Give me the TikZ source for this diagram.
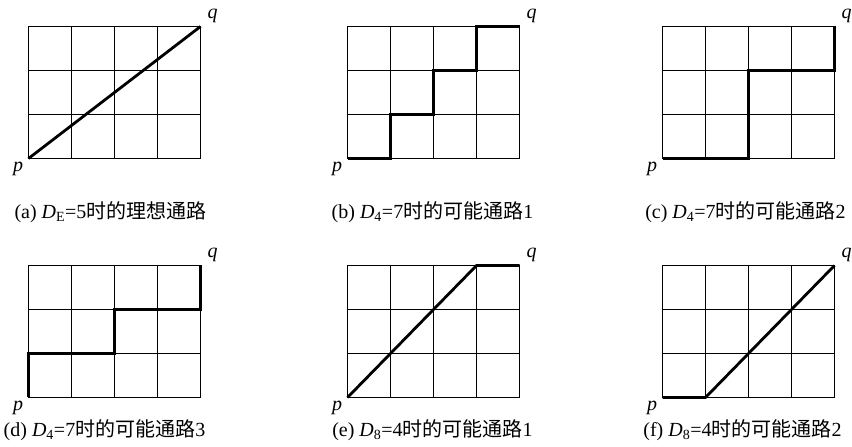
\documentclass[tikz,border=0pt]{standalone}
\usepackage{fontspec}
\setmainfont{Liberation Serif}
\newfontfamily\cjk{Noto Sans CJK SC}
\usepackage{tikz}
\usetikzlibrary{positioning, calc}
\definecolor{tracado}{RGB}{0,0,0}
% malha 4x3 em unidades de celula
\newcommand{\malha}{%
    \foreach \i in {0,1,2,3,4} {
        \draw[grade] (\i,0) -- (\i,3);
    }
    \foreach \j in {0,1,2,3} {
        \draw[grade] (0,\j) -- (4,\j);
    }
}

\begin{document}
\begin{tikzpicture}[x=1pt, y=1pt,
    grade/.style={line width=1.1pt, line cap=rect},
    rota/.style={line width=2.8pt, color=tracado},
    celula/.style={x=43pt, y=44pt},
    ponto/.style={font=\fontsize{20}{22}\selectfont\itshape, inner sep=0pt},
    legenda/.style={font=\fontsize{20}{22}\selectfont, inner sep=0pt}]
    \useasboundingbox (0,0) rectangle (852,447);
    % (a) linha reta de p a q
    \begin{scope}[shift={(28.5pt,288.5pt)}, celula]
        \malha
        \coordinate (pA) at (0,0);
        \coordinate (qA) at (4,3);
        \draw[rota] (pA) -- (qA);
        \node[ponto] (pa) at ([shift={(-10.5pt,-10pt)}]pA) {p};
        \node[ponto] (qa) at ([shift={(12pt,11pt)}]qA) {q};
    \end{scope}
    % (b) escada 1-1-1
    \begin{scope}[shift={(347.5pt,288.5pt)}, celula]
        \malha
        \coordinate (pB) at (0,0);
        \coordinate (qB) at (4,3);
        \draw[rota] (pB) -- (1,0) -- (1,1) -- (2,1) -- (2,2) -- (3,2) -- (3,3) -- (qB);
        \node[ponto] (pb) at ([shift={(-10.5pt,-10pt)}]pB) {p};
        \node[ponto] (qb) at ([shift={(12pt,11pt)}]qB) {q};
    \end{scope}
    % (c)
    \begin{scope}[shift={(662.5pt,288.5pt)}, celula]
        \malha
        \coordinate (pC) at (0,0);
        \coordinate (qC) at (4,3);
        \draw[rota] (pC) -- (2,0) -- (2,2) -- (4,2) -- (qC);
        \node[ponto] (pc) at ([shift={(-10.5pt,-10pt)}]pC) {p};
        \node[ponto] (qc) at ([shift={(12pt,11pt)}]qC) {q};
    \end{scope}
    % (d)
    \begin{scope}[shift={(28.5pt,49.5pt)}, celula]
        \malha
        \coordinate (pD) at (0,0);
        \coordinate (qD) at (4,3);
        \draw[rota] (pD) -- (0,1) -- (2,1) -- (2,2) -- (4,2) -- (qD);
        \node[ponto] (pd) at ([shift={(-10.5pt,-10pt)}]pD) {p};
        \node[ponto] (qd) at ([shift={(12pt,11pt)}]qD) {q};
    \end{scope}
    % (e) diagonal e depois horizontal
    \begin{scope}[shift={(347.5pt,49.5pt)}, celula]
        \malha
        \coordinate (pE) at (0,0);
        \coordinate (qE) at (4,3);
        \draw[rota] (pE) -- (3,3) -- (qE);
        \node[ponto] (pe) at ([shift={(-10.5pt,-10pt)}]pE) {p};
        \node[ponto] (qe) at ([shift={(12pt,11pt)}]qE) {q};
    \end{scope}
    % (f) horizontal e depois diagonal
    \begin{scope}[shift={(662.5pt,49.5pt)}, celula]
        \malha
        \coordinate (pF) at (0,0);
        \coordinate (qF) at (4,3);
        \draw[rota] (pF) -- (1,0) -- (qF);
        \node[ponto] (pf) at ([shift={(-10.5pt,-10pt)}]pF) {p};
        \node[ponto] (qf) at ([shift={(12pt,11pt)}]qF) {q};
    \end{scope}
    % legendas
    \node[legenda] (capa) at (110.5,235) {(a) \textit{D}\textsubscript{E}=5{\cjk 时的理想通路}};
    \node[legenda] (capb) at (432.5,235) {(b) \textit{D}\textsubscript{4}=7{\cjk 时的可能通路}1};
    \node[legenda] (capc) at (745.5,235) {(c) \textit{D}\textsubscript{4}=7{\cjk 时的可能通路}2};
    \node[legenda] (capd) at (104.5,17) {(d) \textit{D}\textsubscript{4}=7{\cjk 时的可能通路}3};
    \node[legenda] (cape) at (432.5,17) {(e) \textit{D}\textsubscript{8}=4{\cjk 时的可能通路}1};
    \node[legenda] (capf) at (742.5,17) {(f) \textit{D}\textsubscript{8}=4{\cjk 时的可能通路}2};
\end{tikzpicture}
\end{document}
